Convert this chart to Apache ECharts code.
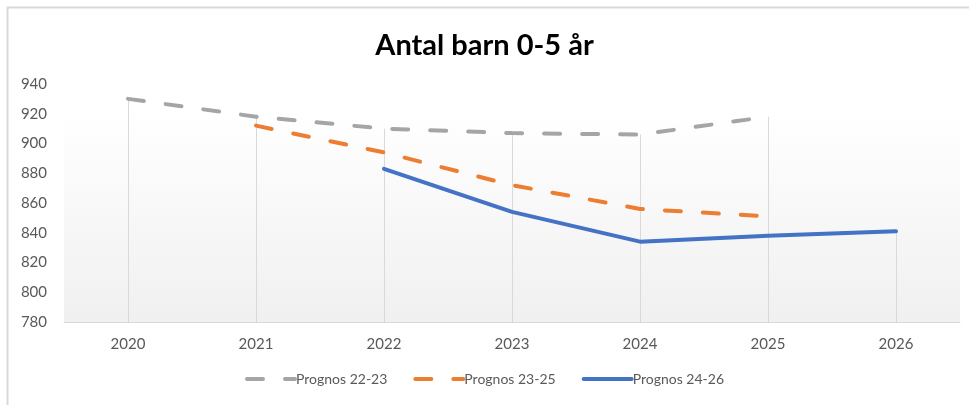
<!DOCTYPE html>
<html><head><meta charset="utf-8">
<script src="https://cdn.jsdelivr.net/npm/echarts@6/dist/echarts.min.js"></script>
<style>html,body{margin:0;padding:0;background:#fff}#c{width:969px;height:405px}</style>
</head><body><div id="c"></div>
<script>
const categories = ['2020','2021','2022','2023','2024','2025','2026'];
const prognos2223 = [930, 918, 910, 907, 906, 918, null];
const prognos2325 = [null, 912, 894, 872, 856, 851, null];
const prognos2426 = [null, null, 883, 854, 834, 838, 841];
const yMin = 780, yMax = 940, yStep = 20;
const titleText = 'Antal barn 0-5 år';
const seriesNames = ['Prognos 22-23', 'Prognos 23-25', 'Prognos 24-26'];

const dropData = categories.map((c, i) => {
  const vals = [prognos2223[i], prognos2325[i], prognos2426[i]].filter(v => v != null);
  return [i, Math.max(...vals)];
});

const font = 'Lato, "Noto Sans", sans-serif';
const chart = echarts.init(document.getElementById('c'));
chart.setOption({
  backgroundColor: '#fff',
  animation: false,
  title: { text: titleText, left: 'center', top: 26,
    textStyle: { fontFamily: font, fontWeight: 'bold', fontSize: 29, color: '#000' } },
  graphic: [{ type: 'rect', shape: { x: 7.5, y: 7.5, width: 1000, height: 500 },
    style: { fill: null, stroke: '#d9d9d9', lineWidth: 2 }, z: -1, silent: true }],
  grid: { left: 64, right: 9, top: 84, bottom: 83, show: true, borderWidth: 0,
    backgroundColor: new echarts.graphic.LinearGradient(0, 0, 0, 1, [
      { offset: 0, color: '#ffffff' }, { offset: 0.12, color: '#ffffff' }, { offset: 1, color: '#f0f0f0' }]) },
  legend: { bottom: 14, left: 'center', itemWidth: 48, itemHeight: 10, itemGap: 26,
    data: seriesNames,
    itemStyle: { opacity: 0 },
    lineStyle: { width: 4, cap: 'round', type: 'inherit', color: 'inherit' },
    textStyle: { fontFamily: font, fontSize: 14, color: '#595959', padding: [0, 0, 0, -4] } },
  xAxis: { type: 'category', data: categories, boundaryGap: true,
    axisLine: { lineStyle: { color: '#d9d9d9', width: 1 } }, axisTick: { show: false },
    axisLabel: { fontFamily: font, fontSize: 15, color: '#595959', margin: 15 } },
  yAxis: { type: 'value', min: yMin, max: yMax, interval: yStep,
    axisLine: { show: false }, axisTick: { show: false }, splitLine: { show: false },
    axisLabel: { fontFamily: font, fontSize: 15, color: '#595959', margin: 17 } },
  series: [
    { type: 'custom', name: 'drop', data: dropData, z: 1, silent: true,
      renderItem: (params, api) => {
        const top = api.coord([api.value(0), api.value(1)]);
        const bot = api.coord([api.value(0), yMin]);
        return { type: 'line', shape: { x1: Math.round(top[0]) + 0.5, y1: top[1], x2: Math.round(bot[0]) + 0.5, y2: bot[1] },
          style: { stroke: '#d9d9d9', lineWidth: 1 } };
      } },
    { type: 'line', name: seriesNames[0], data: prognos2223, symbol: 'none', z: 3,
      itemStyle: { color: '#a5a5a5' },
      lineStyle: { color: '#a5a5a5', width: 4, type: [16, 22], cap: 'round' } },
    { type: 'line', name: seriesNames[1], data: prognos2325, symbol: 'none', z: 4,
      itemStyle: { color: '#ed7d31' },
      lineStyle: { color: '#ed7d31', width: 4, type: [16, 22], cap: 'round' } },
    { type: 'line', name: seriesNames[2], data: prognos2426, symbol: 'none', z: 5,
      itemStyle: { color: '#4472c4' },
      lineStyle: { color: '#4472c4', width: 4, type: 'solid', cap: 'round' } }
  ]
});
</script></body></html>
